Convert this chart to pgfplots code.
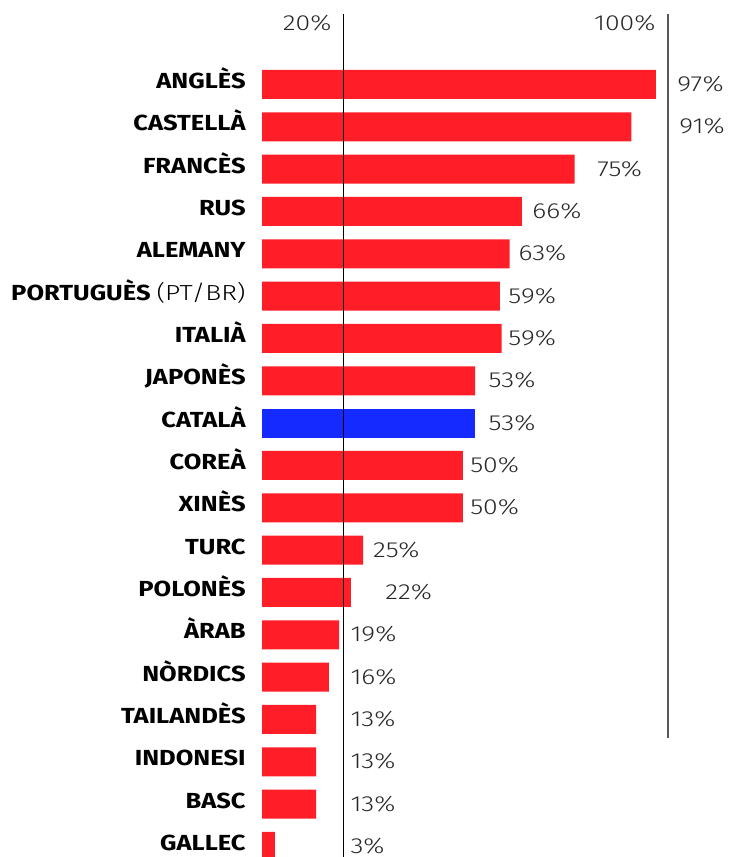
\documentclass[border=0pt]{standalone}
\usepackage{fontspec}
\setmainfont{Fira Sans}[FakeStretch=1.17]
\newfontfamily\light{Fira Sans Light}[FakeStretch=1.22]
\usepackage{pgfplots}
\pgfplotsset{compat=1.18}
\definecolor{myred}{RGB}{255,30,40}
\definecolor{myblue}{RGB}{20,42,255}
\definecolor{txt}{RGB}{40,40,40}
\begin{document}
\begin{tikzpicture}
\begin{axis}[
  width=366pt, height=428.5pt, scale only axis,
  xmin=-64.53, xmax=115.76,
  ymin=-1.996, ymax=18.25, y dir=reverse,
  hide axis, clip=false,
]
% bars
\addplot[xbar, bar width=0.685, fill=myred, draw=none] coordinates {
 (97,0) (91,1) (77,2) (64,3) (61,4) (58.6,5) (59,6) (52.5,7)
 (49.5,9) (49.5,10) (24.9,11) (21.9,12) (19,13) (16.5,14)
 (13.3,15) (13.3,16) (13.3,17) (3.2,18)};
\addplot[xbar, bar width=0.685, fill=myblue, draw=none] coordinates {(52.5,8)};
% reference lines
\addplot[black, line width=0.7pt, mark=none] coordinates {(20,-1.665) (20,18.25)};
\addplot[black!65, line width=1pt, mark=none] coordinates {(100,-1.665) (100,15.44)};
% value labels
\addplot[draw=none, mark=none, nodes near coords, point meta=explicit symbolic,
  every node near coord/.append style={anchor=base west, inner sep=0pt, text=txt, font=\light\fontsize{10.9}{12}\selectfont}]
 coordinates {
 (102.2,0.165) [97\%] (102.7,1.165) [91\%] (82.5,2.165) [75\%] (66.5,3.165) [66\%]
 (63.1,4.165) [63\%] (60.6,5.165) [59\%] (60.6,6.165) [59\%] (55.7,7.165) [53\%]
 (55.7,8.165) [53\%] (51.2,9.165) [50\%] (51.2,10.165) [50\%] (27.3,11.165) [25\%]
 (30.3,12.165) [22\%] (21.7,13.165) [19\%] (21.7,14.165) [16\%] (21.7,15.165) [13\%]
 (21.7,16.165) [13\%] (21.7,17.165) [13\%] (21.7,18.165) [3\%]};
% top labels
\addplot[draw=none, mark=none, nodes near coords, point meta=explicit symbolic,
  every node near coord/.append style={anchor=base east, inner sep=0pt, text=txt, font=\light\fontsize{10.9}{12}\selectfont}]
 coordinates {(17.2,-1.264) [20\%] (97.0,-1.264) [100\%]};
% category labels
\addplot[draw=none, mark=none, nodes near coords, point meta=explicit symbolic,
  every node near coord/.append style={anchor=base east, inner sep=0pt, text=black, font=\bfseries\fontsize{10.9}{12}\selectfont}]
 coordinates {
 (-3.94,0.095) [ANGLÈS] (-3.94,1.095) [CASTELLÀ] (-3.94,2.095) [FRANCÈS]
 (-3.94,3.095) [RUS] (-3.94,4.095) [ALEMANY]
 (-3.94,5.095) [{PORTUGUÈS {\light\mdseries (PT/BR)}}]
 (-3.94,6.095) [ITALIÀ] (-3.94,7.095) [JAPONÈS] (-3.94,8.095) [CATALÀ]
 (-3.94,9.095) [COREÀ] (-3.94,10.095) [XINÈS] (-3.94,11.095) [TURC]
 (-3.94,12.095) [POLONÈS] (-3.94,13.095) [ÀRAB] (-3.94,14.095) [NÒRDICS]
 (-3.94,15.095) [TAILANDÈS] (-3.94,16.095) [INDONESI] (-3.94,17.095) [BASC]
 (-3.94,18.095) [GALLEC]};
\end{axis}
\pgfresetboundingbox
\path[use as bounding box] (current axis.south west) rectangle (current axis.north east);
\end{tikzpicture}
\end{document}
